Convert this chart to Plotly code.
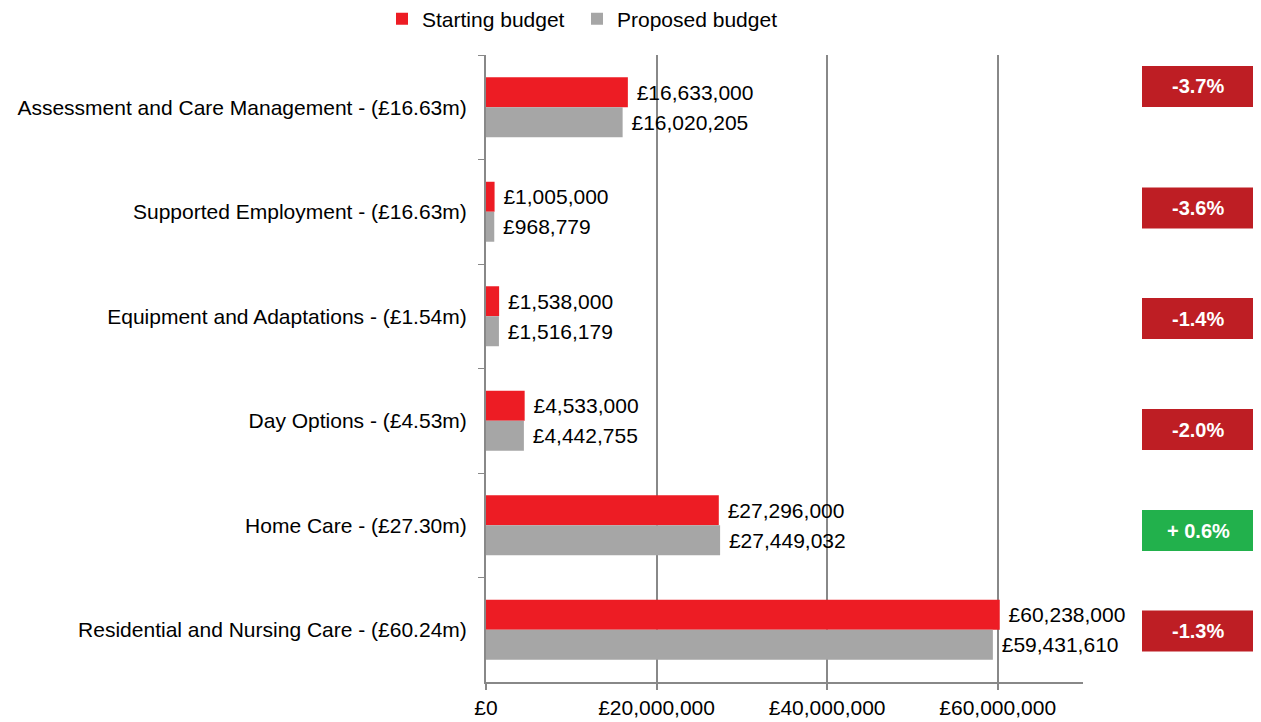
import plotly.graph_objects as go

categories = [
    "Assessment and Care Management - (£16.63m)",
    "Supported Employment - (£16.63m)",
    "Equipment and Adaptations - (£1.54m)",
    "Day Options - (£4.53m)",
    "Home Care - (£27.30m)",
    "Residential and Nursing Care - (£60.24m)",
]
starting_budget = [16633000, 1005000, 1538000, 4533000, 27296000, 60238000]
proposed_budget = [16020205, 968779, 1516179, 4442755, 27449032, 59431610]
change_labels = ["-3.7%", "-3.6%", "-1.4%", "-2.0%", "+ 0.6%", "-1.3%"]
change_positive = [False, False, False, False, True, False]
x_tickvals = [0, 20000000, 40000000, 60000000]
x_ticktext = ["£0", "£20,000,000", "£40,000,000", "£60,000,000"]

# box vertical centres (paper coords)
box_centres = [0.9498, 0.7560, 0.5797, 0.4027, 0.2416, 0.0813]

RED = "#ED1C24"
GREY = "#A6A6A6"
FONT = "Liberation Sans, Arial, sans-serif"
FS = 21

# the page body has an 8px margin; size the figure so it fills the window
OFF = 8
W, H = 1261 - OFF, 722 - OFF

def money(v):
    return "\u00a0£{:,}".format(v)

fig = go.Figure()
fig.add_trace(go.Bar(
    y=categories, x=starting_budget, orientation="h", name="Starting budget",
    marker=dict(color=RED, line=dict(width=0)), legend="legend",
    text=[money(v) for v in starting_budget], textposition="outside",
    textfont=dict(family=FONT, size=FS, color="black"),
    constraintext="none", cliponaxis=False,
))
fig.add_trace(go.Bar(
    y=categories, x=proposed_budget, orientation="h", name="Proposed budget",
    marker=dict(color=GREY, line=dict(width=0)), legend="legend2",
    text=[money(v) for v in proposed_budget], textposition="outside",
    textfont=dict(family=FONT, size=FS, color="black"),
    constraintext="none", cliponaxis=False,
))

shapes = []
annotations = []
bx0 = (1142 - 486) / 597
bx1 = (1254 - 486) / 597
bh = 41 / 627
for lab, pos, yc in zip(change_labels, change_positive, box_centres):
    col = "#22B14C" if pos else "#BE1E24"
    shapes.append(dict(type="rect", xref="paper", yref="paper",
                       x0=bx0, x1=bx1, y0=yc - bh / 2, y1=yc + bh / 2,
                       fillcolor=col, line=dict(width=0), layer="above"))
    annotations.append(dict(xref="paper", yref="paper", x=(bx0 + bx1) / 2, y=yc,
                            text="<b>%s</b>" % lab, showarrow=False,
                            font=dict(family=FONT, size=20, color="white"),
                            xanchor="center", yanchor="middle"))

leg_common = dict(orientation="h", xref="container", yref="container",
                  xanchor="left", yanchor="middle", y=1 - 11 / H,
                  font=dict(family=FONT, size=FS, color="black"),
                  itemwidth=30, bgcolor="rgba(0,0,0,0)")

fig.update_layout(
    width=W, height=H,
    margin=dict(l=486 - OFF, r=178, t=55 - OFF, b=40, autoexpand=False),
    paper_bgcolor="white", plot_bgcolor="white",
    barmode="group", bargap=0.426, bargroupgap=0,
    font=dict(family=FONT, size=FS, color="black"),
    showlegend=True,
    legend=dict(x=(382 - OFF) / W, **leg_common),
    legend2=dict(x=(577 - OFF) / W, **leg_common),
    shapes=shapes, annotations=annotations,
)
fig.update_xaxes(
    range=[0, 70000000], tickvals=x_tickvals, ticktext=x_ticktext,
    showgrid=True, gridcolor="#888888", gridwidth=2,
    showline=True, linecolor="#888888", linewidth=2,
    ticks="outside", ticklen=6, tickcolor="#888888", tickwidth=2,
    zeroline=False, automargin=False,
    tickfont=dict(family=FONT, size=FS, color="black"),
)
fig.update_yaxes(
    autorange="reversed", showgrid=False,
    showline=True, linecolor="#888888", linewidth=2,
    ticks="outside", ticklen=6, tickcolor="#888888", tickwidth=1,
    tickson="boundaries", ticklabelstandoff=13, automargin=False,
    tickfont=dict(family=FONT, size=FS, color="black"),
)

fig.write_html("out.html")
